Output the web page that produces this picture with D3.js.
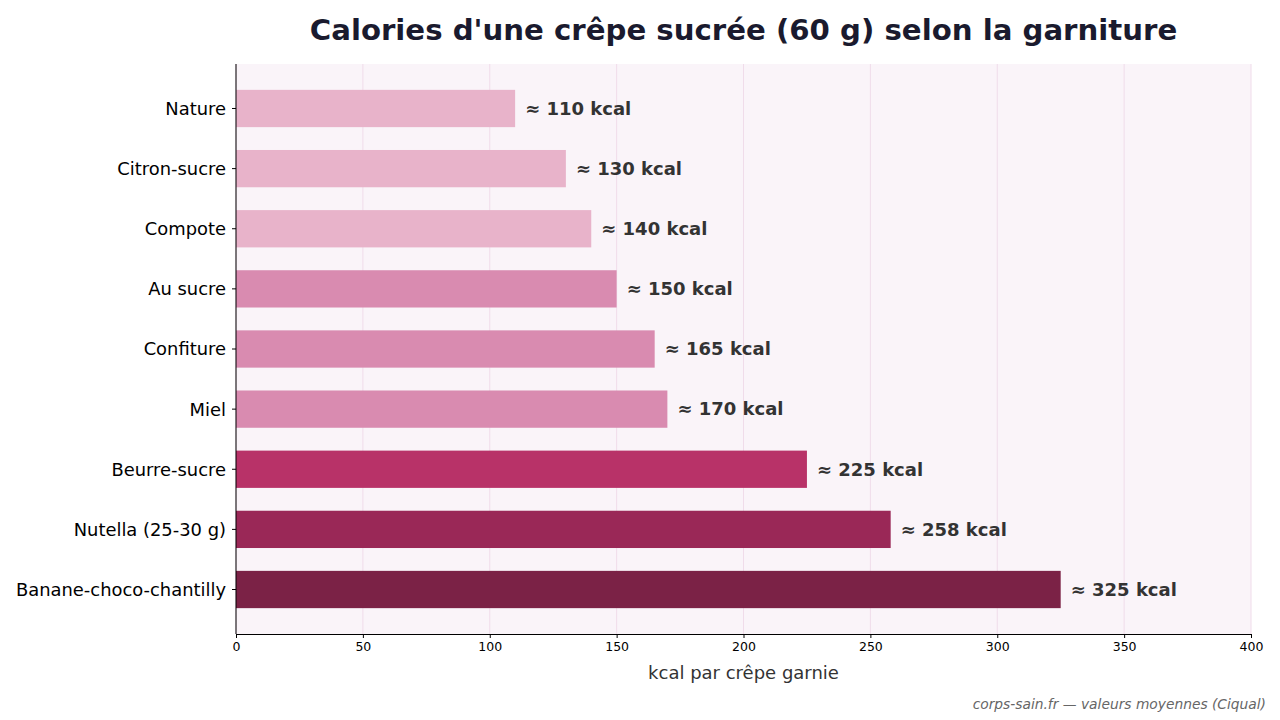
<!DOCTYPE html>
<html>
<head>
<meta charset="utf-8">
<script src="https://cdn.jsdelivr.net/npm/d3@7"></script>
<style>
  body { margin: 0; background: #ffffff; }
  svg, svg text { font-family: "DejaVu Sans", sans-serif; }
</style>
</head>
<body>
<svg id="chart" width="1280" height="720"></svg>
<script>
// data
const categories = ["Nature", "Citron-sucre", "Compote", "Au sucre", "Confiture", "Miel",
  "Beurre-sucre", "Nutella (25-30 g)", "Banane-choco-chantilly"];
const kcal = [110, 130, 140, 150, 165, 170, 225, 258, 325];
const barColors = ["#e8b3ca", "#e8b3ca", "#e8b3ca", "#d98bb0", "#d98bb0", "#d98bb0",
  "#b83268", "#9a2857", "#7b2246"];
const xTicks = [0, 50, 100, 150, 200, 250, 300, 350, 400];

const margin = { top: 64, right: 29, bottom: 86, left: 236 };
const width = 1280 - margin.left - margin.right;
const height = 720 - margin.top - margin.bottom;

const svg = d3.select("#chart");

const x = d3.scaleLinear().domain([0, 400]).range([0, width]);
const y = d3.scaleBand()
  .domain(categories)
  .range([0, height])
  .paddingInner(0.38)
  .paddingOuter(0.43);

const g = svg.append("g")
  .attr("transform", "translate(" + margin.left + "," + margin.top + ")");

// plot background
g.append("rect")
  .attr("width", width)
  .attr("height", height)
  .attr("fill", "#faf4f9");

// vertical grid
g.append("g")
  .selectAll("line")
  .data(xTicks)
  .join("line")
  .attr("x1", d => x(d))
  .attr("x2", d => x(d))
  .attr("y1", 0)
  .attr("y2", height)
  .attr("stroke", "#f0dcea")
  .attr("stroke-width", 1);

// bars
g.append("g")
  .selectAll("rect")
  .data(categories)
  .join("rect")
  .attr("x", 0)
  .attr("y", d => y(d))
  .attr("width", (d, i) => x(kcal[i]))
  .attr("height", y.bandwidth())
  .attr("fill", (d, i) => barColors[i]);

// value labels
g.append("g")
  .selectAll("text")
  .data(categories)
  .join("text")
  .attr("x", (d, i) => x(kcal[i]) + 10)
  .attr("y", d => y(d) + y.bandwidth() / 2)
  .attr("dy", "0.35em")
  .attr("font-size", 18)
  .attr("font-weight", "bold")
  .attr("fill", "#333333")
  .text((d, i) => "≈ " + kcal[i] + " kcal");

// axes
const xAxis = g.append("g")
  .attr("transform", "translate(0," + height + ")")
  .call(d3.axisBottom(x).tickValues(xTicks).tickSize(4).tickPadding(4));
xAxis.attr("font-family", null);
xAxis.selectAll("text").attr("font-size", 12.5).attr("fill", "#000");
xAxis.select(".domain").attr("stroke", "#000");

const yAxis = g.append("g")
  .call(d3.axisLeft(y).tickSize(4).tickPadding(6));
yAxis.attr("font-family", null);
yAxis.selectAll("text").attr("font-size", 17.9).attr("fill", "#000").attr("dy", "0.36em");
yAxis.select(".domain").attr("stroke", "#000").attr("d", "M0,0V" + height);
yAxis.selectAll(".tick line").attr("stroke", "#000");

// axis title
svg.append("text")
  .attr("x", margin.left + width / 2)
  .attr("y", 679)
  .attr("text-anchor", "middle")
  .attr("font-size", 18)
  .attr("fill", "#333333")
  .text("kcal par crêpe garnie");

// title
svg.append("text")
  .attr("x", margin.left + width / 2)
  .attr("y", 40)
  .attr("text-anchor", "middle")
  .attr("font-size", 29.2)
  .attr("font-weight", "bold")
  .attr("fill", "#1a1a2e")
  .text("Calories d'une crêpe sucrée (60 g) selon la garniture");

// source
svg.append("text")
  .attr("x", 1266)
  .attr("y", 709)
  .attr("text-anchor", "end")
  .attr("font-size", 13.8)
  .attr("font-style", "italic")
  .attr("fill", "#666666")
  .text("corps-sain.fr — valeurs moyennes (Ciqual)");
</script>
</body>
</html>
